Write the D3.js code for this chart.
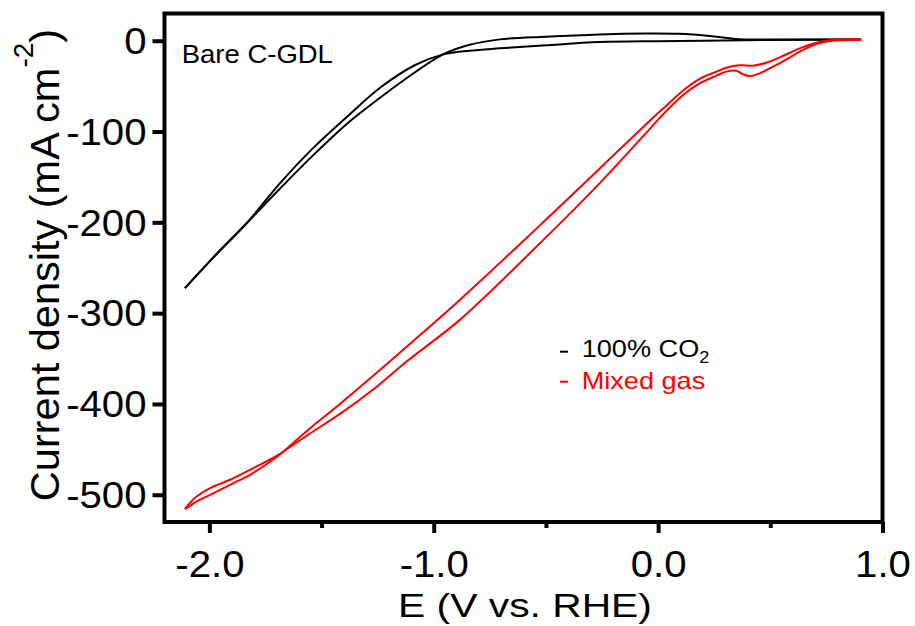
<!DOCTYPE html>
<html><head><meta charset="utf-8">
<script src="https://cdn.jsdelivr.net/npm/d3@7"></script>
<style>body{margin:0;background:#fff} svg{display:block} text{font-family:"Liberation Sans",Arial,Helvetica,sans-serif}</style>
</head><body><svg id="c" width="915" height="626"></svg>
<script>
// ---------- data ----------
const xTicks = [-2.0, -1.0, 0.0, 1.0];
const xMinorTicks = [-1.5, -0.5, 0.5];
const yTicks = [0, -100, -200, -300, -400, -500];
const seriesNames = ["100% CO", "Mixed gas"];
const seriesColors = ["#000000", "#ff0000"];
const panelLabel = "Bare C-GDL";

// 100% CO2 – sweep toward negative potential
const co2SweepDownE = [0.905, 0.63, 0.36, 0.24, 0.09, -0.06, -0.26, -0.50, -0.706, -0.84, -0.958, -1.085, -1.235, -1.38, -1.537, -1.686, -1.834, -1.98, -2.109];
const co2SweepDownJ = [1.5, 1.5, 1.7, 5.0, 7.6, 7.9, 7.0, 4.5, 1.5, -4.5, -15, -35, -62, -90, -126, -163, -201, -238, -272.5];
// 100% CO2 – return sweep
const co2SweepUpE = [-2.109, -1.98, -1.834, -1.686, -1.537, -1.388, -1.235, -1.085, -0.958, -0.84, -0.706, -0.50, -0.26, 0.0, 0.2, 0.5, 0.905];
const co2SweepUpJ = [-272.5, -238, -201, -157, -118, -84, -51, -27, -15, -11, -8.4, -5, -1.5, -0.5, 0, 0.8, 1.5];

// Mixed gas – sweep toward negative potential
const mixSweepDownE = [0.905, 0.779, 0.705, 0.631, 0.572, 0.512, 0.453, 0.408, 0.375, 0.349, 0.304, 0.26, 0.185, 0.11, 0.007, -0.037, -0.275, -0.572, -0.884, -1.121, -1.270, -1.418, -1.567, -1.693, -1.819, -1.908, -1.997, -2.057, -2.094, -2.109];
const mixSweepDownJ = [0.8, 0, -3.6, -12.1, -20.5, -28.6, -35.9, -38.9, -36.5, -33, -34, -38.5, -47, -60, -85, -97, -160.7, -234, -307.4, -353.3, -384, -411, -435, -456, -472.5, -483.5, -492.6, -501.9, -511, -515.7];
// Mixed gas – return sweep
const mixSweepUpE = [-2.109, -2.094, -2.057, -1.997, -1.908, -1.819, -1.693, -1.567, -1.418, -1.270, -1.121, -0.884, -0.572, -0.275, -0.037, 0.052, 0.11, 0.185, 0.26, 0.304, 0.364, 0.423, 0.482, 0.542, 0.631, 0.705, 0.779, 0.905];
const mixSweepUpJ = [-515.7, -513.5, -507.4, -500.2, -489, -478, -457, -430, -400, -369, -337, -285.4, -213.8, -144.2, -88, -68, -55, -42, -34, -29.7, -27.1, -27.5, -24.2, -18.3, -8.4, -2.2, 0.8, 1.5];

// ---------- chart ----------
const svg = d3.select("#c");
const L = 164.5, R = 882.5, T = 13.5, B = 522;
const x = d3.scaleLinear().domain([-2.2, 1.0]).range([L, R]);
const y = d3.scaleLinear().domain([-530, 30]).range([B, T]);

const zip = (E, J) => E.map((e, i) => [e, J[i]]);
const line = d3.line().x(d => x(d[0])).y(d => y(d[1])).curve(d3.curveCatmullRom.alpha(0.5));

const curves = [
  {pts: zip(co2SweepDownE, co2SweepDownJ), c: seriesColors[0]},
  {pts: zip(co2SweepUpE, co2SweepUpJ), c: seriesColors[0]},
  {pts: zip(mixSweepDownE, mixSweepDownJ), c: seriesColors[1]},
  {pts: zip(mixSweepUpE, mixSweepUpJ), c: seriesColors[1]}
];
svg.append("g").selectAll("path").data(curves).join("path")
  .attr("d", d => line(d.pts)).attr("fill", "none")
  .attr("stroke", d => d.c).attr("stroke-width", 2).attr("stroke-linejoin", "round");

// frame
svg.append("rect").attr("x", L).attr("y", T).attr("width", R - L).attr("height", B - T)
  .attr("fill", "none").attr("stroke", "#000").attr("stroke-width", 4);

const SX = 1.1, FS = 36.5;
// bottom axis
const gx = svg.append("g").attr("transform", `translate(0,${B})`)
  .call(d3.axisBottom(x).tickValues(xTicks).tickSize(11).tickFormat(d => d.toFixed(1)));
gx.select(".domain").remove();
gx.selectAll(".tick line").attr("stroke", "#000").attr("stroke-width", 4);
gx.selectAll(".tick text").attr("font-size", FS).attr("fill", "#000")
  .attr("y", 55).attr("dy", 0).attr("transform", `scale(${SX},1)`);
const gxm = svg.append("g").attr("transform", `translate(0,${B})`)
  .call(d3.axisBottom(x).tickValues(xMinorTicks).tickSize(6).tickFormat(""));
gxm.select(".domain").remove();
gxm.selectAll(".tick line").attr("stroke", "#000").attr("stroke-width", 4);

// left axis
const gy = svg.append("g").attr("transform", `translate(${L},0)`)
  .call(d3.axisLeft(y).tickValues(yTicks).tickSize(12).tickFormat(d => String(d)));
gy.select(".domain").remove();
gy.selectAll(".tick line").attr("stroke", "#000").attr("stroke-width", 4);
gy.selectAll(".tick text").attr("font-size", FS).attr("fill", "#000")
  .attr("x", -18 / SX).attr("dy", "0.35em").attr("transform", `scale(${SX},1)`);

// axis titles
svg.append("g").attr("transform", "translate(525,617) scale(1.2,1)")
  .append("text").attr("text-anchor", "middle").attr("font-size", 34).text("E (V vs. RHE)");

const yt = svg.append("text").attr("transform", "translate(59,265) rotate(-90)")
  .attr("text-anchor", "middle").attr("font-size", 41.5);
yt.append("tspan").text("Current density (mA cm");
yt.append("tspan").attr("font-size", 28).attr("dy", -26).text("-2");
yt.append("tspan").attr("dy", 26).text(")");

// panel label
svg.append("g").attr("transform", "translate(181.7,63.3) scale(1.1,1)")
  .append("text").attr("font-size", 25).text(panelLabel);

// legend
const legY = [351.7, 381.7];
const legBase = [357, 388.5];
seriesNames.forEach((n, i) => {
  svg.append("line").attr("x1", 560).attr("x2", 568).attr("y1", legY[i]).attr("y2", legY[i])
    .attr("stroke", seriesColors[i]).attr("stroke-width", 2);
  const t = svg.append("g").attr("transform", `translate(581.7,${legBase[i]}) scale(1.13,1)`)
    .append("text").attr("font-size", 24).attr("fill", seriesColors[i]);
  t.append("tspan").text(n);
  if (i === 0) t.append("tspan").attr("font-size", 16).attr("dy", 6).text("2");
});
</script></body></html>
